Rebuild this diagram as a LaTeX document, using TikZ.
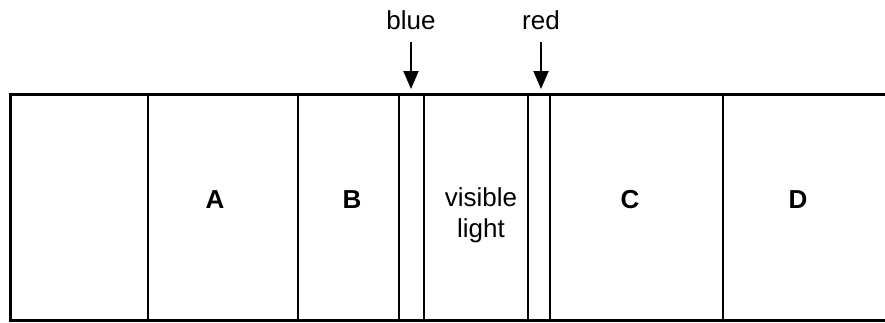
\documentclass[tikz,border=0pt]{standalone}
\usepackage{fontspec}
\setmainfont{Liberation Sans}
\usetikzlibrary{arrows.meta}

\begin{document}
\begin{tikzpicture}[x=0.5pt,y=-0.5pt,
	band/.style={line width=1pt},
	lbl/.style={font=\fontsize{13}{15.5}\selectfont, inner sep=0pt},
	zone/.style={font=\fontsize{13}{15.5}\selectfont\bfseries, inner sep=0pt},
	pointer/.style={-{Triangle[length=9pt,width=7.5pt]}, line width=1pt, shorten <=6pt}]

	\useasboundingbox (0,0) rectangle (885,322);

	% outer edges (open on the right)
	\draw[line width=1.5pt] (885,94) -- (10,94) -- (10,320) -- (885,320);
	\foreach \x in {148,298,399,424,528,550,723}
		\draw[band] (\x,94) -- (\x,320);

	\node[zone] (A) at (215,200) {A};
	\node[zone] (B) at (352,200) {B};
	\node[lbl, align=center] (vis) at (481,215) {visible\\light};
	\node[zone] (C) at (630,200) {C};
	\node[zone] (D) at (798,200) {D};

	\node[lbl] (blue) at (411,20) {blue};
	\node[lbl] (red) at (541,20) {red};
	\coordinate (blueTip) at (411,89);
	\coordinate (redTip) at (541,89);

	\draw[pointer] (blue.south) -- (blueTip);
	\draw[pointer] (red.south) -- (redTip);
	
\end{tikzpicture}
\end{document}
